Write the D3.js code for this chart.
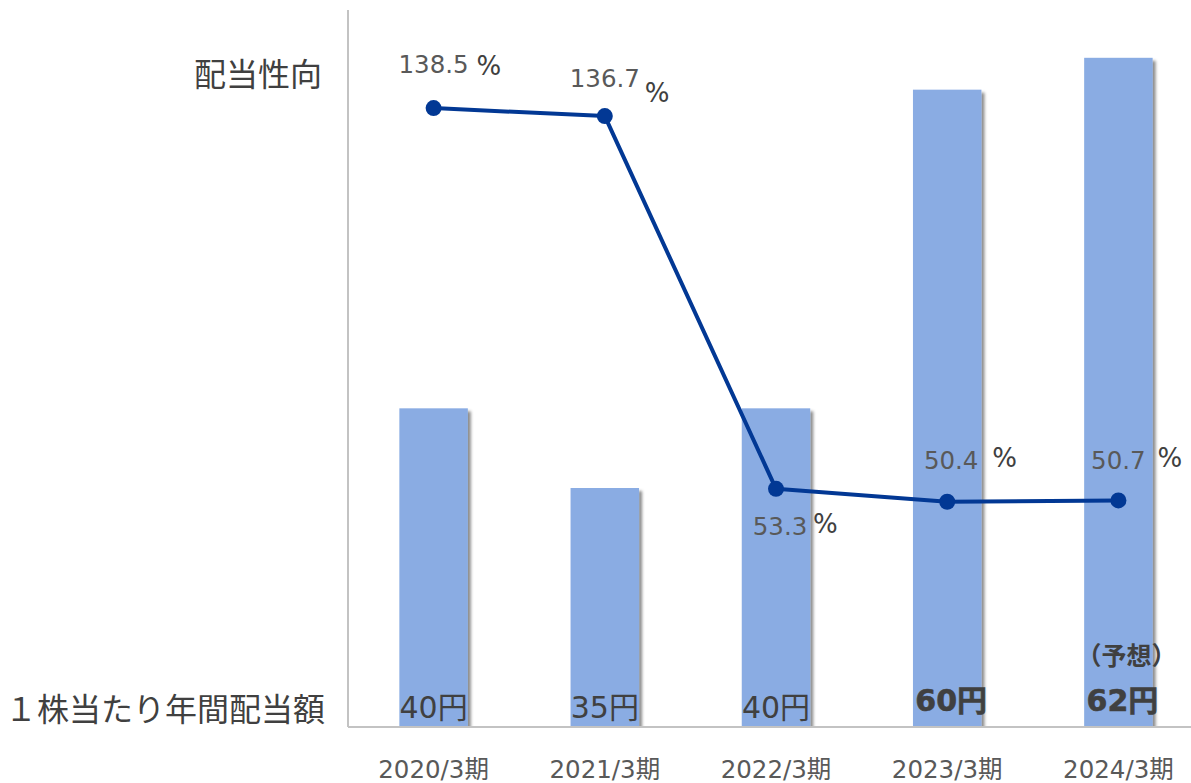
<!DOCTYPE html>
<html><head><meta charset="utf-8">
<script src="https://cdn.jsdelivr.net/npm/d3@7"></script>
<style>
html,body{margin:0;padding:0;background:#fff;}
svg{display:block;}
text{font-family:"DejaVu Sans","Noto Sans CJK JP",sans-serif;}
</style></head>
<body>
<svg id="chart" width="1191" height="783"></svg>
<script>
const categories = ["2020/3期","2021/3期","2022/3期","2023/3期","2024/3期"];
const dividends = [40, 35, 40, 60, 62];
const payoutRatios = [138.5, 136.7, 53.3, 50.4, 50.7];
const dividendLabels = ["40円","35円","40円","60円","62円"];
const dividendBold = [false, false, false, true, true];
const forecastNote = ["", "", "", "", "（予想）"];
const rowLabels = ["配当性向", "１株当たり年間配当額"];

const svg = d3.select("#chart");
const W = 1191, H = 783;
const axisX = 348, baseY = 727, topY = 10;

const defs = svg.append("defs");
const f = defs.append("filter").attr("id","shadow").attr("x","-20%").attr("y","-5%").attr("width","150%").attr("height","110%");
f.append("feDropShadow").attr("dx",3).attr("dy",3).attr("stdDeviation",1.8)
  .attr("flood-color","#000").attr("flood-opacity",0.45);

const x = d3.scaleBand().domain(categories).range([axisX, 1204]).paddingInner(0.6).paddingOuter(0.3);
const yBar = d3.scaleLinear().domain([20, 65]).range([baseY, topY]);
const yLine = d3.scaleLinear().domain([0, 160]).range([baseY, 12]);

// bars
const clip = defs.append("clipPath").attr("id","plotclip");
clip.append("rect").attr("x",0).attr("y",0).attr("width",W).attr("height",baseY);
svg.append("g").attr("clip-path","url(#plotclip)").selectAll("rect").data(dividends).join("rect")
  .attr("x",(d,i)=>x(categories[i]))
  .attr("width",x.bandwidth())
  .attr("y",d=>yBar(d))
  .attr("height",d=>baseY - yBar(d))
  .attr("fill","#8AACE3")
  .attr("filter","url(#shadow)");

// axes lines
const xAxis = d3.axisBottom(x).tickSize(0).tickPadding(0);
const gx = svg.append("g").attr("transform",`translate(0,${baseY})`).call(xAxis);
gx.select(".domain").remove();
gx.append("line").attr("x1",axisX).attr("x2",W).attr("y1",0).attr("y2",0)
  .attr("stroke","#c3c3c3").attr("stroke-width",2);
gx.selectAll(".tick text").attr("font-size",24.5).attr("fill","#595959")
  .attr("font-family",'"DejaVu Sans","Noto Sans CJK JP",sans-serif')
  .attr("dy",null).attr("y",51);

svg.append("line").attr("x1",axisX).attr("x2",axisX).attr("y1",topY).attr("y2",baseY)
  .attr("stroke","#c3c3c3").attr("stroke-width",2);

// bar labels
const cx = i => x(categories[i]) + x.bandwidth()/2;
svg.append("g").selectAll("text").data(dividendLabels).join("text")
  .attr("x",(d,i)=>cx(i)+ (dividendBold[i]?4:0))
  .attr("y",(d,i)=>dividendBold[i]?711:718)
  .attr("text-anchor","middle")
  .attr("font-size",30)
  .attr("font-weight",(d,i)=>dividendBold[i]?"bold":"normal")
  .attr("fill","#404040")
  .attr("stroke",(d,i)=>dividendBold[i]?"#404040":"none")
  .attr("stroke-width",0.6)
  .text(d=>d);
svg.append("g").selectAll("text").data(forecastNote).join("text")
  .attr("x",(d,i)=>cx(i)+8)
  .attr("y",665)
  .attr("text-anchor","middle")
  .attr("font-size",25)
  .attr("font-weight","bold")
  .attr("fill","#404040")
  .text(d=>d);

// line
const line = d3.line().x((d,i)=>cx(i)).y(d=>yLine(d));
svg.append("path").datum(payoutRatios).attr("d",line)
  .attr("fill","none").attr("stroke","#023894").attr("stroke-width",4)
  .attr("stroke-linejoin","round");
svg.append("g").selectAll("circle").data(payoutRatios).join("circle")
  .attr("cx",(d,i)=>cx(i)).attr("cy",d=>yLine(d)).attr("r",8)
  .attr("fill","#023894");

// percentage labels: [dx of number center, dy of baseline, dx of % start, dy of % baseline]
const lblLayout = [
  [0, -35, 43, -33],
  [0, -29, 40, -14],
  [4, 46, 37, 44],
  [4, -33, 45, -35],
  [0, -31, 39, -33]
];
const pl = svg.append("g");
payoutRatios.forEach((p,i)=>{
  const px = cx(i), py = yLine(p), L = lblLayout[i];
  pl.append("text").attr("x",px+L[0]).attr("y",py+L[1]).attr("text-anchor","middle")
    .attr("font-size",24.5).attr("fill","#595959").text(p.toFixed(1));
  pl.append("text").attr("x",px+L[2]).attr("y",py+L[3]).attr("text-anchor","start")
    .attr("font-size",26).attr("fill","#404040").text("%");
});

// row labels
svg.append("text").attr("x",322).attr("y",86).attr("text-anchor","end")
  .attr("font-size",32).attr("fill","#404040").text(rowLabels[0]);
svg.append("text").attr("x",325).attr("y",721).attr("text-anchor","end")
  .attr("font-size",32).attr("fill","#404040").text(rowLabels[1]);
</script>
</body></html>
